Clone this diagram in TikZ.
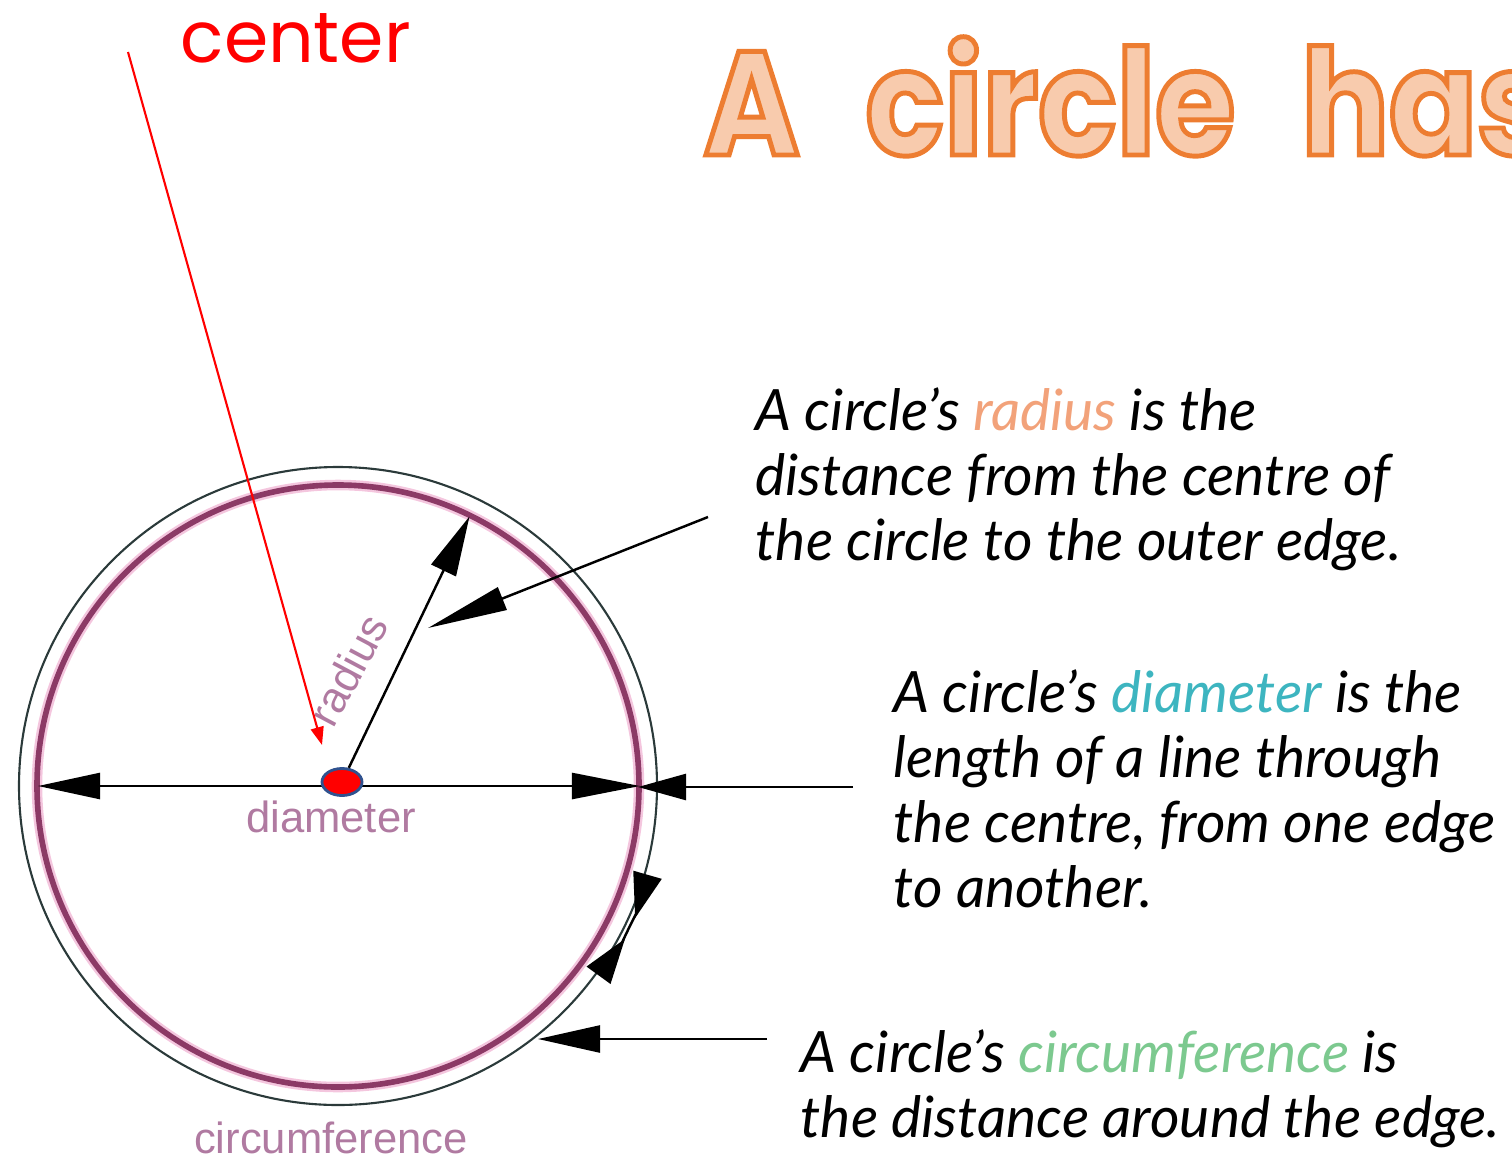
\documentclass[tikz,border=0pt]{standalone}
\usepackage{fontspec}
\usepackage{xcolor}
\usetikzlibrary{arrows.meta,shapes.geometric}
\newfontfamily\titlefont[WordSpace=2.4,FakeStretch=0.88]{Poppins}
\newfontfamily\namefont{Poppins}
\newfontfamily\handfont{Lato}
\newfontfamily\labelfont{Liberation Sans}
\definecolor{ringpurple}{HTML}{8C3A66}
\definecolor{ringpink}{HTML}{F4C6DE}
\definecolor{ringdark}{HTML}{2B3A3A}
\definecolor{lblpurple}{HTML}{B07AA1}
\definecolor{wordorange}{HTML}{F2A27A}
\definecolor{wordteal}{HTML}{3DB5C0}
\definecolor{wordgreen}{HTML}{7CC98F}
\definecolor{ellblue}{HTML}{2F528F}
% orange outline, peach fill
\newcommand\outlined[1]{\special{pdf:code 2 Tr 1.4 w 0.929 0.490 0.192 RG 0.973 0.796 0.678 rg}#1\special{pdf:code 0 Tr 0 G 0 g}}

\tikzset{
  lbl/.style={font=\labelfont\fontsize{12.4}{14}\selectfont, text=lblpurple, inner sep=0},
  note/.style={font=\handfont\itshape\fontsize{16.2}{18.5}\selectfont, align=left, anchor=north west, inner sep=0},
  pointer/.style={line width=0.7pt}
}

\begin{document}
\begin{tikzpicture}[x=0.01cm,y=0.01cm]
    \clip (0,0) rectangle (1512,1159);
    \coordinate (c) at (338,373);
    \draw[line width=3pt, ringpink] (c) circle (301);
    \draw[line width=1.6pt, ringpurple] (c) circle (301);
    \draw[line width=0.6pt, ringdark] (c) circle (319);

    \coordinate (dl) at (38,373);
    \coordinate (dr) at (640,373);
    \draw[pointer, {Triangle[length=6.2mm,width=2.6mm]}-{Triangle[length=6.8mm,width=2.6mm]}] (dl) -- (dr);

    \node[ellipse, draw=ellblue, fill=red, line width=0.8pt, minimum width=0.4cm, minimum height=0.27cm, inner sep=0] (ctr) at (342,377) {};
    \coordinate (rtip) at ([shift={(64:300)}]c);
    \draw[pointer, -{Triangle[length=6mm,width=2.7mm]}] (ctr) -- (rtip);

    \node[lbl, rotate=62] (radlbl) at (348,489) {radius};
    \node[lbl] (diamlbl) at (331,342) {diameter};
    \node[lbl] (circlbl) at (331,21) {circumference};

    % pointers from the notes
    \coordinate (p1a) at (708,642);
    \coordinate (p1b) at (428,531);
    \draw[pointer, -{Triangle[length=8mm,width=2.4mm]}] (p1a) -- (p1b);
    \coordinate (p2a) at (853,372);
    \coordinate (p2b) at (638,372);
    \draw[pointer, -{Triangle[length=4.8mm,width=2.6mm]}] (p2a) -- (p2b);
    \coordinate (p3a) at (767,120);
    \coordinate (p3b) at (538,120);
    \draw[pointer, -{Triangle[length=6.2mm,width=2.7mm]}] (p3a) -- (p3b);
    \draw[pointer, {Triangle[length=4.5mm,width=2.9mm,reversed]}-{Triangle[length=4.5mm,width=2.9mm,reversed]}] ([shift={(-36:322)}]c) arc (-36:-16:322);

    % red label
    \node[anchor=base west, inner sep=0, text=red, font=\namefont\fontsize{20.3}{21}\selectfont] (cname) at (180,1097) {center};
    \coordinate (cstart) at (128,1107);
    \draw[red, line width=0.6pt, -{Triangle[length=1.8mm,width=1.3mm]}] (cstart) -- (322,414);

    \node[anchor=base west, inner sep=0, font=\titlefont\bfseries\fontsize{42}{42}\selectfont] (title) at (703,1004) {\outlined{A circle has}};

    \node[note] (radnote) at (755,772) {A circle’s \textcolor{wordorange}{radius} is the\\distance from the centre of\\the circle to the outer edge.};
    \node[note] (diamnote) at (893,490) {A circle’s \textcolor{wordteal}{diameter} is the\\length of a line through\\the centre, from one edge\\to another.};
    \node[note] (circnote) at (800,130) {A circle’s \textcolor{wordgreen}{circumference} is\\the distance around the edge.};
\end{tikzpicture}
\end{document}
